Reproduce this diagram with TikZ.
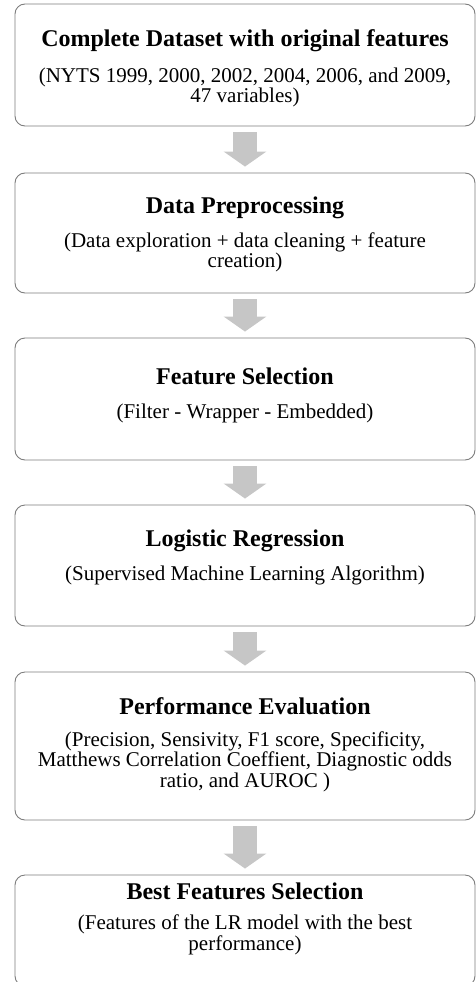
\documentclass[tikz,border=0pt]{standalone}
\usepackage{fontspec}
\setmainfont{Liberation Serif}
\usetikzlibrary{arrows.meta}
\definecolor{boxline}{RGB}{125,125,125}
\definecolor{arrowfill}{RGB}{198,198,198}
\tikzset{
  stepbox/.style={draw=boxline, line width=0.9pt, rounded corners=10pt, fill=white,
    minimum width=460pt, inner sep=0pt},
  titletext/.style={anchor=base, inner sep=0pt, font=\fontsize{24}{28}\selectfont\bfseries},
  subtext/.style={anchor=north, inner sep=0pt, align=center, font=\fontsize{21}{20.5}\selectfont},
  flowarrow/.style={draw=arrowfill, line width=24pt,
    -{Triangle[width=42pt,length=15pt]}, shorten <=6pt, shorten >=6pt},
}
\begin{document}
\begin{tikzpicture}[x=1pt,y=-1pt]
\useasboundingbox (0,0) rectangle (476,982);
\clip (0,0) rectangle (476,982);
% boxes
\node[stepbox, minimum height=122pt] (b1) at (245,65) {};
\node[stepbox, minimum height=120pt] (b2) at (245,233) {};
\node[stepbox, minimum height=122pt] (b3) at (245,399) {};
\node[stepbox, minimum height=121pt] (b4) at (245,565.5) {};
\node[stepbox, minimum height=148pt] (b5) at (245,746) {};
\node[stepbox, minimum height=111pt] (b6) at (245,930.5) {};
% texts
\node[titletext] (t1) at (245,47) {Complete Dataset with original features};
\node[subtext] (s1) at (245,67.5) {(NYTS 1999, 2000, 2002, 2004, 2006, and 2009,\\47 variables)};
\node[titletext] (t2) at (245,213) {Data Preprocessing};
\node[subtext] (s2) at (245,232.5) {(Data exploration + data cleaning + feature\\creation)};
\node[titletext] (t3) at (245,384) {Feature Selection};
\node[subtext] (s3) at (245,403.5) {(Filter - Wrapper - Embedded)};
\node[titletext] (t4) at (245,546) {Logistic Regression};
\node[subtext] (s4) at (245,565.5) {(Supervised Machine Learning Algorithm)};
\node[titletext] (t5) at (245,714) {Performance Evaluation};
\node[subtext] (s5) at (245,731.5) {(Precision, Sensivity, F1 score, Specificity,\\Matthews Correlation Coeffient, Diagnostic odds\\ratio, and AUROC )};
\node[titletext] (t6) at (245,899) {Best Features Selection};
\node[subtext] (s6) at (245,915) {(Features of the LR model with the best\\performance)};
% arrows
\draw[flowarrow] (b1.south) -- (b2.north);
\draw[flowarrow] (b2.south) -- (b3.north);
\draw[flowarrow] (b3.south) -- (b4.north);
\draw[flowarrow] (b4.south) -- (b5.north);
\draw[flowarrow] (b5.south) -- (b6.north);
\end{tikzpicture}
\end{document}
